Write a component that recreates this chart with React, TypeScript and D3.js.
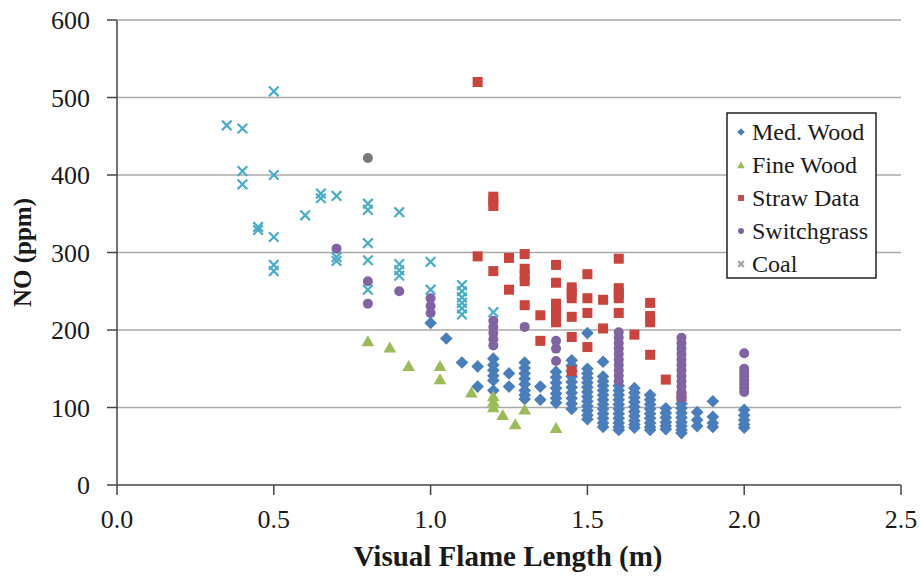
import * as d3 from "d3";

// x = visual flame length (m), y = NO (ppm)
const medWood: [number, number][] = [
  [1.0, 209], [1.05, 189], [1.1, 158], [1.15, 153], [1.15, 127],
  [1.2, 163], [1.2, 155], [1.2, 148], [1.2, 141], [1.2, 135], [1.2, 122],
  [1.25, 144], [1.25, 127],
  [1.3, 158], [1.3, 151], [1.3, 144], [1.3, 137], [1.3, 130], [1.3, 122], [1.3, 116], [1.3, 111],
  [1.35, 127], [1.35, 110],
  [1.4, 146], [1.4, 139], [1.4, 132], [1.4, 125], [1.4, 118], [1.4, 112], [1.4, 106],
  [1.45, 161], [1.45, 154], [1.45, 147], [1.45, 140], [1.45, 133], [1.45, 126], [1.45, 119], [1.45, 112], [1.45, 105], [1.45, 98],
  [1.5, 196], [1.5, 150], [1.5, 144], [1.5, 138], [1.5, 132], [1.5, 126], [1.5, 120], [1.5, 114], [1.5, 108], [1.5, 102], [1.5, 96], [1.5, 90], [1.5, 85],
  [1.55, 159], [1.55, 140], [1.55, 134], [1.55, 128], [1.55, 122], [1.55, 116], [1.55, 110], [1.55, 104], [1.55, 98], [1.55, 92], [1.55, 86], [1.55, 80], [1.55, 75],
  [1.6, 128], [1.6, 122], [1.6, 116], [1.6, 110], [1.6, 104], [1.6, 98], [1.6, 92], [1.6, 86], [1.6, 80], [1.6, 75], [1.6, 71],
  [1.65, 125], [1.65, 119], [1.65, 113], [1.65, 107], [1.65, 101], [1.65, 95], [1.65, 89], [1.65, 83], [1.65, 78], [1.65, 74],
  [1.7, 116], [1.7, 110], [1.7, 104], [1.7, 98], [1.7, 92], [1.7, 86], [1.7, 80], [1.7, 75], [1.7, 71],
  [1.75, 99], [1.75, 93], [1.75, 87], [1.75, 81], [1.75, 76], [1.75, 72],
  [1.8, 105], [1.8, 99], [1.8, 93], [1.8, 87], [1.8, 81], [1.8, 76], [1.8, 71], [1.8, 67],
  [1.85, 94], [1.85, 84], [1.85, 76],
  [1.9, 108], [1.9, 88], [1.9, 80], [1.9, 75],
  [2.0, 97], [2.0, 90], [2.0, 84], [2.0, 78], [2.0, 74],
];

const fineWood: [number, number][] = [
  [0.8, 185], [0.87, 177], [0.93, 153], [1.03, 153], [1.03, 136], [1.13, 119],
  [1.2, 114], [1.2, 107], [1.2, 100], [1.23, 90], [1.27, 78], [1.3, 97], [1.4, 73],
];

const straw: [number, number][] = [
  [1.15, 520], [1.2, 372], [1.2, 366], [1.2, 360], [1.15, 295], [1.2, 276],
  [1.25, 293], [1.25, 252], [1.3, 298], [1.3, 279], [1.3, 271], [1.3, 263], [1.3, 232],
  [1.35, 219], [1.35, 186], [1.4, 284], [1.4, 261], [1.4, 234], [1.4, 228], [1.4, 222], [1.4, 216], [1.4, 210],
  [1.45, 255], [1.45, 248], [1.45, 241], [1.45, 217], [1.45, 191], [1.45, 147],
  [1.5, 272], [1.5, 241], [1.5, 222], [1.5, 178], [1.55, 239], [1.55, 202],
  [1.6, 292], [1.6, 254], [1.6, 247], [1.6, 241], [1.6, 222], [1.65, 194],
  [1.7, 235], [1.7, 218], [1.7, 210], [1.7, 168], [1.75, 136], [1.8, 114],
];

const switchgrass: [number, number][] = [
  [0.7, 305], [0.8, 263], [0.8, 234], [0.9, 250], [1.0, 241], [1.0, 231], [1.0, 222],
  [1.2, 212], [1.2, 204], [1.2, 196], [1.2, 188], [1.2, 180], [1.3, 204],
  [1.4, 186], [1.4, 176], [1.4, 160],
  [1.6, 197], [1.6, 190], [1.6, 183], [1.6, 176], [1.6, 169], [1.6, 162], [1.6, 155], [1.6, 148], [1.6, 141], [1.6, 134],
  [1.8, 190], [1.8, 183], [1.8, 176], [1.8, 169], [1.8, 162], [1.8, 155], [1.8, 148], [1.8, 141], [1.8, 134], [1.8, 127], [1.8, 120], [1.8, 113],
  [2.0, 170], [2.0, 150], [2.0, 145], [2.0, 140], [2.0, 135], [2.0, 130], [2.0, 125], [2.0, 120],
];

const coal: [number, number][] = [
  [0.35, 464], [0.4, 460], [0.4, 405], [0.4, 388], [0.45, 333], [0.45, 329],
  [0.5, 508], [0.5, 400], [0.5, 320], [0.5, 284], [0.5, 276], [0.6, 348],
  [0.65, 376], [0.65, 370], [0.7, 373], [0.7, 294], [0.7, 289],
  [0.8, 363], [0.8, 355], [0.8, 312], [0.8, 290], [0.8, 252],
  [0.9, 352], [0.9, 285], [0.9, 277], [0.9, 270], [1.0, 288], [1.0, 252],
  [1.1, 258], [1.1, 250], [1.1, 242], [1.1, 235], [1.1, 228], [1.1, 220], [1.2, 223],
];

// the lone grey point that is not in the legend
const other: [number, number][] = [[0.8, 422]];

const xTicks = [0, 0.5, 1.0, 1.5, 2.0, 2.5];
const yTicks = [0, 100, 200, 300, 400, 500, 600];

const legendItems = [
  { label: "Med. Wood", shape: "diamond", color: "#4a7ebb" },
  { label: "Fine Wood", shape: "triangle", color: "#9bbb59" },
  { label: "Straw Data", shape: "square", color: "#c0504d" },
  { label: "Switchgrass", shape: "circle", color: "#8064a2" },
  { label: "Coal", shape: "x", color: "#a6a6a6" },
];

const W = 922;
const H = 580;
const left = 117;
const right = 901;
const top = 20;
const bottom = 485;
const font = "Liberation Serif";

function Marker({ shape, color, x, y, s = 1 }) {
  if (shape === "diamond") {
    const d = d3.symbol(d3.symbolSquare, 80 * s * s)();
    return <path d={d} transform={`translate(${x},${y}) rotate(45)`} fill={color} />;
  }
  if (shape === "triangle") {
    const d = d3.symbol(d3.symbolTriangle, 70 * s * s)();
    return <path d={d} transform={`translate(${x},${y + 1})`} fill={color} />;
  }
  if (shape === "square") {
    const h = 5 * s;
    return <rect x={x - h} y={y - h} width={2 * h} height={2 * h} fill={color} />;
  }
  if (shape === "circle") {
    return <circle cx={x} cy={y} r={5 * s} fill={color} />;
  }
  const h = 4.8 * s;
  return (
    <path
      d={`M${x - h},${y - h}L${x + h},${y + h}M${x - h},${y + h}L${x + h},${y - h}`}
      stroke={color}
      strokeWidth={2.2}
      fill="none"
    />
  );
}

export default function App() {
  const x = d3.scaleLinear().domain([0, 2.5]).range([left, right]);
  const y = d3.scaleLinear().domain([0, 600]).range([bottom, top]);

  const series = [
    { data: medWood, shape: "diamond", color: "#4a7ebb" },
    { data: fineWood, shape: "triangle", color: "#9bbb59" },
    { data: straw, shape: "square", color: "#c8443c" },
    { data: switchgrass, shape: "circle", color: "#8064a2" },
    { data: coal, shape: "x", color: "#4bacc6" },
    { data: other, shape: "circle", color: "#777777" },
  ];

  return (
    <svg
      width={W}
      height={H}
      style={{ position: "absolute", left: 0, top: 0, background: "#fff", fontFamily: font }}
    >
      {yTicks.map((t) => (
        <g key={`y${t}`}>
          {t > 0 && (
            <line x1={left} x2={right} y1={y(t)} y2={y(t)} stroke="#aaaaaa" strokeWidth={1.5} />
          )}
          <line x1={left - 10} x2={left} y1={y(t)} y2={y(t)} stroke="#444" strokeWidth={1.5} />
          <text x={left - 27} y={y(t)} dy="0.35em" textAnchor="end" fontSize={26} fontFamily={font} fill="#1a1a1a">
            {t}
          </text>
        </g>
      ))}
      {xTicks.map((t) => (
        <g key={`x${t}`}>
          <line x1={x(t)} x2={x(t)} y1={bottom} y2={bottom + 10} stroke="#444" strokeWidth={1.5} />
          <text x={x(t)} y={bottom + 43} textAnchor="middle" fontSize={26} fontFamily={font} fill="#1a1a1a">
            {d3.format(".1f")(t)}
          </text>
        </g>
      ))}
      <line x1={left} x2={right} y1={bottom} y2={bottom} stroke="#444" strokeWidth={1.5} />
      <line x1={left} x2={left} y1={top} y2={bottom} stroke="#444" strokeWidth={1.5} />

      {series.map((s, i) => (
        <g key={i}>
          {s.data.map(([a, b], j) => (
            <Marker key={j} shape={s.shape} color={s.color} x={x(a)} y={y(b)} />
          ))}
        </g>
      ))}

      <text
        transform={`translate(31,${(top + bottom) / 2}) rotate(-90)`}
        textAnchor="middle"
        fontSize={25}
        fontWeight="bold"
        fontFamily={font}
        fill="#1a1a1a"
      >
        NO (ppm)
      </text>
      <text
        x={(left + right) / 2 - 1}
        y={566}
        textAnchor="middle"
        fontSize={29}
        fontWeight="bold"
        fontFamily={font}
        fill="#1a1a1a"
      >
        Visual Flame Length (m)
      </text>

      <g>
        <rect x={727} y={113} width={149} height={165} fill="#fff" stroke="#222" strokeWidth={1.5} />
        {legendItems.map((it, i) => (
          <g key={it.label}>
            <Marker shape={it.shape} color={it.color} x={741} y={132 + i * 33} s={0.6} />
            <text x={752} y={132 + i * 33} dy="0.35em" fontSize={24} fontFamily={font} fill="#1a1a1a">
              {it.label}
            </text>
          </g>
        ))}
      </g>
    </svg>
  );
}
